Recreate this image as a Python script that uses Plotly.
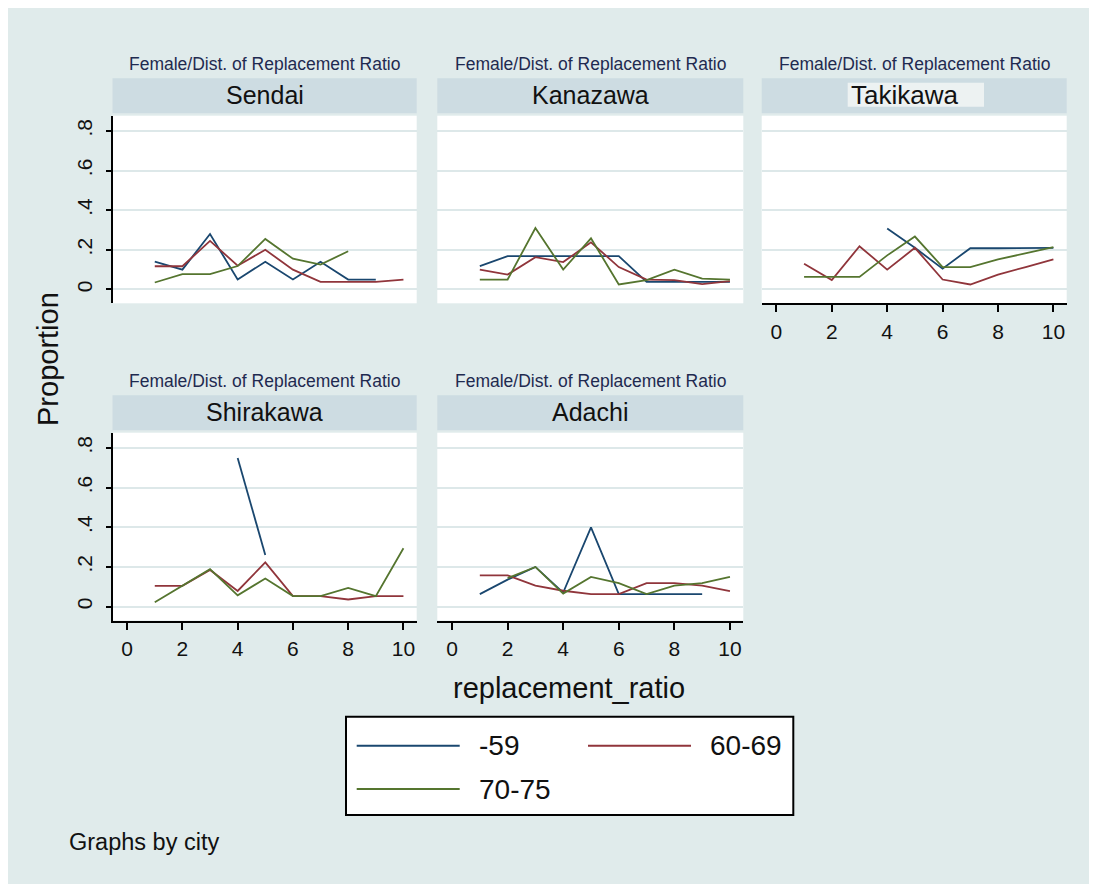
import plotly.graph_objects as go

# ---- data (proportion by replacement ratio, per city and age group) ----
ratio = [1, 2, 3, 4, 5, 6, 7, 8, 9, 10]
groups = ["-59", "60-69", "70-75"]
colors = ["#1a476f", "#90353b", "#55752f"]
cities = ["Sendai", "Kanazawa", "Takikawa", "Shirakawa", "Adachi"]

sendai_59 = [0.14, 0.10, 0.28, 0.05, 0.14, 0.05, 0.14, 0.05, 0.05, None]
sendai_60 = [0.117, 0.117, 0.245, 0.12, 0.20, 0.10, 0.038, 0.038, 0.038, 0.05]
sendai_70 = [0.035, 0.077, 0.077, 0.118, 0.255, 0.155, 0.125, 0.193, None, None]

kanazawa_59 = [0.118, 0.168, 0.168, 0.168, 0.168, 0.168, 0.038, 0.038, 0.038, 0.038]
kanazawa_60 = [0.10, 0.075, 0.163, 0.138, 0.238, 0.113, 0.05, 0.047, 0.027, 0.042]
kanazawa_70 = [0.05, 0.05, 0.31, 0.10, 0.258, 0.025, 0.047, 0.10, 0.055, 0.05]

takikawa_59 = [None, None, None, 0.308, 0.21, 0.105, 0.208, 0.208, 0.208, 0.21]
takikawa_60 = [0.13, 0.047, 0.218, 0.10, 0.21, 0.05, 0.025, 0.075, 0.113, 0.152]
takikawa_70 = [0.063, 0.063, 0.063, 0.172, 0.267, 0.113, 0.113, 0.152, 0.183, 0.213]

shirakawa_59 = [None, None, None, 0.75, 0.26, None, None, None, None, None]
shirakawa_60 = [0.105, 0.105, 0.185, 0.079, 0.223, 0.053, 0.053, 0.036, 0.053, 0.053]
shirakawa_70 = [0.022, 0.105, 0.189, 0.057, 0.142, 0.053, 0.053, 0.094, 0.053, 0.294]

adachi_59 = [0.063, 0.136, 0.20, 0.071, 0.40, 0.063, 0.063, 0.063, 0.063, None]
adachi_60 = [0.158, 0.158, 0.106, 0.08, 0.063, 0.063, 0.118, 0.118, 0.106, 0.078]
adachi_70 = [None, 0.144, 0.20, 0.066, 0.15, 0.118, 0.063, 0.106, 0.118, 0.15]

city_data = [
    [sendai_59, sendai_60, sendai_70],
    [kanazawa_59, kanazawa_60, kanazawa_70],
    [takikawa_59, takikawa_60, takikawa_70],
    [shirakawa_59, shirakawa_60, shirakawa_70],
    [adachi_59, adachi_60, adachi_70],
]

xticks = [0, 2, 4, 6, 8, 10]
yticks = [0, 0.2, 0.4, 0.6, 0.8]
ytick_text = ["0", ".2", ".4", ".6", ".8"]

# ---- layout geometry (screen pixels; page body adds an 8px offset) ----
OFF = 8
W, H = 1081, 876
BG = "#e0ebeb"
STRIP = "#cddce2"
FONT = "Liberation Sans, Arial, sans-serif"

def px(x):
    return (x - OFF) / W

def py(y):
    return 1 - (y - OFF) / H

col_x = [(112.5, 416.7), (437.3, 743.3), (761.7, 1066.7)]
row_y = [(115.7, 303.3), (432.7, 620.5)]   # plot area top/bottom
positions = [(0, 0), (0, 1), (0, 2), (1, 0), (1, 1)]
show_x = [False, False, True, True, True]

fig = go.Figure()
shapes = []
annotations = []

for i, city in enumerate(cities):
    r, c = positions[i]
    n = i + 1
    xa = "x" if n == 1 else f"x{n}"
    ya = "y" if n == 1 else f"y{n}"
    for g in range(3):
        fig.add_trace(go.Scatter(
            x=ratio, y=city_data[i][g], mode="lines", name=groups[g],
            line=dict(color=colors[g], width=1.8), connectgaps=False,
            showlegend=False, xaxis=xa, yaxis=ya, hoverinfo="skip",
        ))

    x0, x1 = col_x[c]
    top, bot = row_y[r]
    fig.layout[f"xaxis{'' if n == 1 else n}"] = dict(
        domain=[px(x0), px(x1)], range=[-0.53, 10.48], anchor=ya,
        showgrid=False, zeroline=False,
        showline=show_x[i], linecolor="black", linewidth=2,
        ticks="outside" if show_x[i] else "", ticklen=7, tickwidth=2, tickcolor="black",
        tickvals=xticks, showticklabels=show_x[i], ticklabelstandoff=1,
        tickfont=dict(family=FONT, size=21, color="#111"),
    )
    fig.layout[f"yaxis{'' if n == 1 else n}"] = dict(
        domain=[py(bot), py(top)], range=[-0.07, 0.877], anchor=xa,
        showgrid=True, gridcolor="#dde8e9", gridwidth=2, zeroline=False,
        showline=(c == 0), linecolor="black", linewidth=2,
        ticks="outside" if c == 0 else "", ticklen=5, tickwidth=2, tickcolor="black",
        tickvals=yticks, ticktext=ytick_text, showticklabels=(c == 0), tickangle=-90,
        ticklabelstandoff=5,
        tickfont=dict(family=FONT, size=21, color="#111"),
    )

    # header strip and subtitle
    s_top = top - 37.4
    s_bot = top - 2.4
    shapes.append(dict(type="rect", xref="paper", yref="paper",
                       x0=px(x0), x1=px(x1), y0=py(s_bot), y1=py(s_top),
                       fillcolor=STRIP, line=dict(width=0), layer="below"))
    annotations.append(dict(text="Female/Dist. of Replacement Ratio", xref="paper", yref="paper",
                            x=px((x0 + x1) / 2), y=py(top - 52), showarrow=False,
                            xanchor="center", yanchor="middle",
                            font=dict(family=FONT, size=17.5, color="#1f2a50")))
    if city != "Takikawa":
        annotations.append(dict(text=city, xref="paper", yref="paper",
                                x=px((x0 + x1) / 2), y=py(top - 21), showarrow=False,
                                xanchor="center", yanchor="middle",
                                font=dict(family=FONT, size=25, color="#111")))

# Takikawa label pasted over a light box
shapes.append(dict(type="rect", xref="paper", yref="paper",
                   x0=px(847.7), x1=px(984), y0=py(106.7), y1=py(82.7),
                   fillcolor="#edf2f2", line=dict(width=0)))
annotations.append(dict(text="Takikawa", xref="paper", yref="paper",
                        x=px(849), y=py(94.5), showarrow=False,
                        xanchor="left", yanchor="middle",
                        font=dict(family=FONT, size=26, color="#111")))

# axis titles and note
annotations.append(dict(text="Proportion", xref="paper", yref="paper",
                        x=px(48), y=py(359), showarrow=False, textangle=-90,
                        xanchor="center", yanchor="middle",
                        font=dict(family=FONT, size=29, color="#111")))
annotations.append(dict(text="replacement_ratio", xref="paper", yref="paper",
                        x=px(569), y=py(688), showarrow=False,
                        xanchor="center", yanchor="middle",
                        font=dict(family=FONT, size=29, color="#111")))
annotations.append(dict(text="Graphs by city", xref="paper", yref="paper",
                        x=px(67), y=py(842), showarrow=False,
                        xanchor="left", yanchor="middle",
                        font=dict(family=FONT, size=23.5, color="#111")))

# legend box
shapes.append(dict(type="rect", xref="paper", yref="paper",
                   x0=px(346), x1=px(793.3), y0=py(815), y1=py(716.7),
                   fillcolor="white", line=dict(color="black", width=2)))
leg_pos = [(356.7, 745.7), (588, 745.7), (356.7, 789)]
for g in range(3):
    lx, ly = leg_pos[g]
    shapes.append(dict(type="line", xref="paper", yref="paper",
                       x0=px(lx), x1=px(lx + 103), y0=py(ly), y1=py(ly),
                       line=dict(color=colors[g], width=2)))
    annotations.append(dict(text=groups[g], xref="paper", yref="paper",
                            x=px(lx + 120), y=py(ly), showarrow=False,
                            xanchor="left", yanchor="middle",
                            font=dict(family=FONT, size=28, color="#111")))

fig.update_layout(
    width=W, height=H, autosize=False,
    margin=dict(l=0, r=0, t=0, b=0),
    paper_bgcolor=BG, plot_bgcolor="white",
    shapes=shapes, annotations=annotations,
    showlegend=False,
)

fig.write_html("out.html")
